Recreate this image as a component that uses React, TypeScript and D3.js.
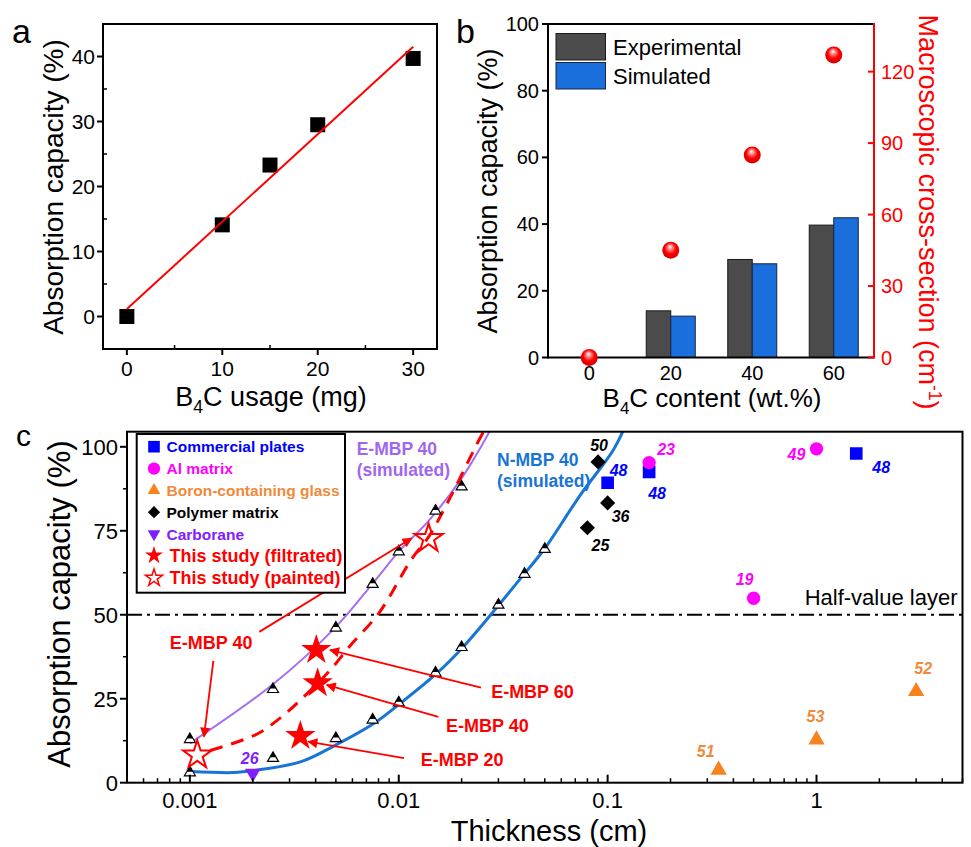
import React, { useRef, useEffect } from 'react';
import * as d3 from 'd3';

// panel a - absorption vs B4C usage
const usageMg = [0, 10, 15, 20, 30];
const usageAbsorption = [0, 14.1, 23.3, 29.5, 39.7];

// panel b - absorption / cross-section vs B4C content
const contentLevels = ['0', '20', '40', '60'];
const experimentalAbs = [0, 14.0, 29.4, 39.7];
const simulatedAbs = [0, 12.4, 28.1, 41.9];
const crossSection = [0, 45, 85, 127];

// panel c - simulated points
const eSimThickness = [0.001, 0.0025, 0.005, 0.0075, 0.01, 0.015, 0.02];
const eSimAbs = [12.9, 27.8, 46.1, 59.1, 68.8, 80.9, 88.1];
const nSimThickness = [0.001, 0.0025, 0.005, 0.0075, 0.01, 0.015, 0.02, 0.03, 0.04, 0.05];
const nSimAbs = [3.0, 7.3, 13.2, 18.7, 23.8, 32.7, 40.3, 52.9, 62.1, 69.5];

// panel c - curves
const eCurveX = [0.001, 0.0025, 0.005, 0.0075, 0.01, 0.014, 0.02, 0.0245, 0.028];
const eCurveY = [11.7, 29.3, 46.4, 59.3, 68.8, 78.2, 90.6, 99.5, 106];
const nCurveX = [0.001, 0.00162, 0.00202, 0.00338, 0.00488, 0.00759, 0.01016, 0.01523, 0.0204, 0.0306, 0.0403, 0.0501, 0.0737, 0.1063, 0.12];
const nCurveY = [3.3, 3.0, 3.6, 6.2, 10.9, 17.6, 23.6, 32.6, 40.5, 53.4, 62.5, 69.8, 85.5, 99.0, 105.5];
const paintedCurveX = [0.00125, 0.0021, 0.00277, 0.00357, 0.00462, 0.0058, 0.0081, 0.0115, 0.0139, 0.0175, 0.0237, 0.026];
const paintedCurveY = [9.6, 14.5, 19.8, 26.0, 33.0, 40.5, 50.8, 66.5, 73.2, 84.5, 100.9, 105.5];

// panel c - literature data
const commercialX = [0.1, 0.158, 1.55];
const commercialY = [89.3, 92.5, 98.0];
const commercialRef = ['48', '48', '48'];
const alX = [0.158, 0.5, 1.0];
const alY = [95.3, 54.9, 99.4];
const alRef = ['23', '19', '49'];
const glassX = [0.34, 1.0, 3.0];
const glassY = [3.8, 12.8, 27.2];
const glassRef = ['51', '53', '52'];
const polymerX = [0.09, 0.1, 0.08];
const polymerY = [95.5, 83.3, 75.9];
const polymerRef = ['50', '36', '25'];
const carboraneX = [0.002];
const carboraneY = [2.8];
const carboraneRef = ['26'];
const filtratedX = [0.00403, 0.00409, 0.00338];
const filtratedY = [39.5, 29.6, 13.9];
const paintedX = [0.001085, 0.0139];
const paintedY = [8.2, 72.7];

// reference label offsets in px (dx, dy from marker)
const commercialOff = [[11, -13], [8, 21], [25, 14]];
const alOff = [[17, -13], [-9, -19], [-20, 5]];
const glassOff = [[-13, -19], [-1, -23], [7, -23]];
const polymerOff = [[1, -17], [13, 13], [13, 17]];
const carboraneOff = [[-3, -15]];

// annotations (data coords)
const arrowTailX = [0.00215, 0.001295, 0.02475, 0.01547, 0.01059];
const arrowTailY = [44.9, 36.3, 28.3, 19.6, 7.3];
const arrowHeadX = [0.01153, 0.001168, 0.004688, 0.004519, 0.00369];
const arrowHeadY = [72.8, 13.7, 39.5, 29.1, 12.2];
const noteText = ['E-MBP 40', 'E-MBP 60', 'E-MBP 40', 'E-MBP 20'];
const noteX = [0.001263, 0.04368, 0.02655, 0.02012];
const noteY = [41.7, 27.1, 16.9, 6.8];

const legendNames = ['Commercial plates', 'Al matrix', 'Boron-containing glass', 'Polymer matrix', 'Carborane', 'This study (filtrated)', 'This study (painted)'];

const FONT = 'Arial, "Liberation Sans", Helvetica, sans-serif';
const BLUE = '#0000ff';
const MAGENTA = '#ff00ff';
const ORANGE = '#f7821e';
const ORANGE_T = '#ee8a3a';
const PURPLE = '#8020ff';
const RED = '#ff0000';

function halfTri(s) {
  const h = (s * Math.sqrt(3)) / 2;
  const top = (-2 * h) / 3, bot = h / 3, cut = top + 0.57 * h, hw = (s / 2) * 0.57;
  return {
    outline: `M0,${top}L${s / 2},${bot}L${-s / 2},${bot}Z`,
    fill: `M0,${top}L${hw},${cut}L${-hw},${cut}Z`
  };
}

function App() {
  const svgRef = useRef(null);

  useEffect(() => {
    const svg = d3.select(svgRef.current);
    svg.selectAll('*').remove();
    svg.attr('font-family', FONT);

    const defs = svg.append('defs');
    const grad = defs.append('radialGradient').attr('id', 'ball').attr('cx', '0.5').attr('cy', '0.45').attr('r', '0.55').attr('fx', '0.45').attr('fy', '0.28');
    grad.append('stop').attr('offset', '0').attr('stop-color', '#ffffff');
    grad.append('stop').attr('offset', '0.25').attr('stop-color', '#ff8a8a');
    grad.append('stop').attr('offset', '0.6').attr('stop-color', '#ff0000');
    grad.append('stop').attr('offset', '1').attr('stop-color', '#d00000');
    defs.append('marker').attr('id', 'arrowRed').attr('viewBox', '0 0 10 10').attr('refX', 9).attr('refY', 5)
      .attr('markerWidth', 14).attr('markerHeight', 10).attr('markerUnits', 'userSpaceOnUse').attr('orient', 'auto')
      .append('path').attr('d', 'M0,0L10,5L0,10Z').attr('fill', RED);

    // ============ panel a ============
    const ax = d3.scaleLinear().domain([-2.5, 32.5]).range([103, 437]);
    const ay = d3.scaleLinear().domain([-5, 45]).range([349, 24]);
    const ga = svg.append('g');

    const mx = d3.mean(usageMg), my = d3.mean(usageAbsorption);
    const slope = d3.sum(usageMg.map((x, i) => (x - mx) * (usageAbsorption[i] - my))) / d3.sum(usageMg.map(x => (x - mx) ** 2));
    const icpt = my - slope * mx;

    ga.selectAll('rect.pt').data(usageMg).enter().append('rect')
      .attr('x', d => ax(d) - 7.5).attr('y', (d, i) => ay(usageAbsorption[i]) - 7.5)
      .attr('width', 15).attr('height', 15).attr('fill', '#000');
    ga.append('line').attr('x1', ax(0)).attr('y1', ay(icpt)).attr('x2', ax(30)).attr('y2', ay(icpt + slope * 30))
      .attr('stroke', RED).attr('stroke-width', 2);

    ga.append('rect').attr('x', 103).attr('y', 24).attr('width', 334).attr('height', 325)
      .attr('fill', 'none').attr('stroke', '#000').attr('stroke-width', 2);
    [0, 10, 20, 30].forEach(v => {
      ga.append('line').attr('x1', ax(v)).attr('x2', ax(v)).attr('y1', 349).attr('y2', 355).attr('stroke', '#000').attr('stroke-width', 2);
      ga.append('text').attr('x', ax(v)).attr('y', 376).attr('text-anchor', 'middle').attr('font-size', 21).text(v);
    });
    [5, 15, 25].forEach(v => {
      ga.append('line').attr('x1', ax(v)).attr('x2', ax(v)).attr('y1', 349).attr('y2', 345).attr('stroke', '#000').attr('stroke-width', 1.5);
    });
    [0, 10, 20, 30, 40].forEach(v => {
      ga.append('line').attr('x1', 97).attr('x2', 103).attr('y1', ay(v)).attr('y2', ay(v)).attr('stroke', '#000').attr('stroke-width', 2);
      ga.append('text').attr('x', 95).attr('y', ay(v)).attr('dy', '0.35em').attr('text-anchor', 'end').attr('font-size', 21).text(v);
    });
    [-5, 5, 15, 25, 35].forEach(v => {
      ga.append('line').attr('x1', 103).attr('x2', 107).attr('y1', ay(v)).attr('y2', ay(v)).attr('stroke', '#000').attr('stroke-width', 1.5);
    });
    ga.append('text').attr('transform', 'translate(63,187) rotate(-90)').attr('text-anchor', 'middle').attr('font-size', 28).text('Absorption capacity (%)');
    const axt = ga.append('text').attr('x', 271).attr('y', 406).attr('text-anchor', 'middle').attr('font-size', 27);
    axt.append('tspan').text('B');
    axt.append('tspan').attr('font-size', '0.65em').attr('dy', 7).text('4');
    axt.append('tspan').attr('dy', -7).text('C usage (mg)');
    svg.append('text').attr('x', 12).attr('y', 42.5).attr('font-size', 34).text('a');

    // ============ panel b ============
    const bx = d3.scaleBand().domain(contentLevels).range([548.5, 874.5]);
    const bsub = d3.scaleBand().domain(['exp', 'sim']).range([0, bx.bandwidth()]).paddingOuter(0.663);
    const by = d3.scaleLinear().domain([0, 100]).range([357.5, 24]);
    const by2 = d3.scaleLinear().domain([0, 140]).range([357.5, 24]);
    const gb = svg.append('g');

    gb.selectAll('rect.exp').data(contentLevels).enter().append('rect')
      .attr('x', d => bx(d) + bsub('exp')).attr('y', (d, i) => by(experimentalAbs[i]))
      .attr('width', bsub.bandwidth()).attr('height', (d, i) => by(0) - by(experimentalAbs[i]))
      .attr('fill', '#4b4b4b').attr('stroke', '#1a1a1a').attr('stroke-width', 1);
    gb.selectAll('rect.sim').data(contentLevels).enter().append('rect')
      .attr('x', d => bx(d) + bsub('sim')).attr('y', (d, i) => by(simulatedAbs[i]))
      .attr('width', bsub.bandwidth()).attr('height', (d, i) => by(0) - by(simulatedAbs[i]))
      .attr('fill', '#1b6fdd').attr('stroke', '#1a2440').attr('stroke-width', 1);

    gb.append('line').attr('x1', 548).attr('x2', 874).attr('y1', 24).attr('y2', 24).attr('stroke', '#000').attr('stroke-width', 2);
    gb.append('line').attr('x1', 548).attr('x2', 874).attr('y1', 357.5).attr('y2', 357.5).attr('stroke', '#000').attr('stroke-width', 2);
    gb.append('line').attr('x1', 548).attr('x2', 548).attr('y1', 23).attr('y2', 358.5).attr('stroke', '#000').attr('stroke-width', 2);
    gb.append('line').attr('x1', 874).attr('x2', 874).attr('y1', 23).attr('y2', 358.5).attr('stroke', RED).attr('stroke-width', 2);

    by.ticks(5).forEach(v => {
      gb.append('line').attr('x1', 542).attr('x2', 548).attr('y1', by(v)).attr('y2', by(v)).attr('stroke', '#000').attr('stroke-width', 2);
      gb.append('text').attr('x', 539).attr('y', by(v)).attr('dy', '0.35em').attr('text-anchor', 'end').attr('font-size', 20).text(v);
    });
    [0, 30, 60, 90, 120].forEach(v => {
      gb.append('line').attr('x1', 868).attr('x2', 874).attr('y1', by2(v)).attr('y2', by2(v)).attr('stroke', RED).attr('stroke-width', 2);
      gb.append('text').attr('x', 881).attr('y', by2(v)).attr('dy', '0.35em').attr('fill', RED).attr('font-size', 20).text(v);
    });
    contentLevels.forEach(c => {
      gb.append('text').attr('x', bx(c) + bx.bandwidth() / 2).attr('y', 380).attr('text-anchor', 'middle').attr('font-size', 20).text(c);
    });

    gb.selectAll('circle.cs').data(crossSection).enter().append('circle')
      .attr('cx', (d, i) => bx(contentLevels[i]) + bx.bandwidth() / 2).attr('cy', d => by2(d))
      .attr('r', 8.5).attr('fill', 'url(#ball)');

    // legend b
    [['Experimental', '#4b4b4b', '#1a1a1a'], ['Simulated', '#1b6fdd', '#1a2440']].forEach(([name, fill, stroke], i) => {
      gb.append('rect').attr('x', 556).attr('y', 33.5 + i * 29).attr('width', 49.5).attr('height', 26.5)
        .attr('fill', fill).attr('stroke', stroke).attr('stroke-width', 1);
      gb.append('text').attr('x', 613).attr('y', 54.5 + i * 29).attr('font-size', 22).text(name);
    });

    gb.append('text').attr('transform', 'translate(497,191) rotate(-90)').attr('text-anchor', 'middle').attr('font-size', 27).text('Absorption capacity (%)');
    const bxt = gb.append('text').attr('x', 712).attr('y', 407).attr('text-anchor', 'middle').attr('font-size', 26);
    bxt.append('tspan').text('B');
    bxt.append('tspan').attr('font-size', '0.65em').attr('dy', 7).text('4');
    bxt.append('tspan').attr('dy', -7).text('C content (wt.%)');
    const brt = gb.append('text').attr('transform', 'translate(919,212) rotate(90)').attr('text-anchor', 'middle').attr('font-size', 27).attr('fill', RED);
    brt.append('tspan').text('Macroscopic cross-section (cm');
    brt.append('tspan').attr('font-size', '0.65em').attr('dy', -10).text('-1');
    brt.append('tspan').attr('dy', 10).text(')');
    svg.append('text').attr('x', 456).attr('y', 42.5).attr('font-size', 34).text('b');

    // ============ panel c ============
    const L = 127, R = 962.5, T = 431.7, B = 782.7;
    const cx = d3.scaleLog().domain([0.0005, 5]).range([L, R]);
    const cy = d3.scaleLinear().domain([0, 104.5]).range([B, T]);
    const gc = svg.append('g');
    defs.append('clipPath').attr('id', 'cclip').append('rect').attr('x', L).attr('y', T).attr('width', R - L).attr('height', B - T);
    const plot = gc.append('g').attr('clip-path', 'url(#cclip)');

    plot.append('line').attr('x1', L).attr('x2', R).attr('y1', cy(50)).attr('y2', cy(50))
      .attr('stroke', '#000').attr('stroke-width', 2).attr('stroke-dasharray', '15,5,3,5');

    const line = d3.line().x(d => cx(d[0])).y(d => cy(d[1])).curve(d3.curveCatmullRom);
    plot.append('path').attr('d', line(eCurveX.map((x, i) => [x, eCurveY[i]])))
      .attr('fill', 'none').attr('stroke', '#a46ef2').attr('stroke-width', 2);
    plot.append('path').attr('d', line(nCurveX.map((x, i) => [x, nCurveY[i]])))
      .attr('fill', 'none').attr('stroke', '#1874d6').attr('stroke-width', 3);
    plot.append('path').attr('d', line(paintedCurveX.map((x, i) => [x, paintedCurveY[i]])))
      .attr('fill', 'none').attr('stroke', RED).attr('stroke-width', 3).attr('stroke-dasharray', '13,9');

    const ht = halfTri(11);
    const simPts = eSimThickness.map((x, i) => [x, eSimAbs[i]]).concat(nSimThickness.map((x, i) => [x, nSimAbs[i]]));
    simPts.forEach(([x, y]) => {
      const g = plot.append('g').attr('transform', `translate(${cx(x)},${cy(y)})`);
      g.append('path').attr('d', ht.outline).attr('fill', '#fff').attr('stroke', '#000').attr('stroke-width', 1.2);
      g.append('path').attr('d', ht.fill).attr('fill', '#000');
    });

    // literature markers
    const sq = d3.symbol().type(d3.symbolSquare);
    const addPts = (xs, ys, refs, offs, path, color, rot, textColor) => {
      xs.forEach((x, i) => {
        plot.append('path').attr('d', path).attr('fill', color)
          .attr('transform', `translate(${cx(x)},${cy(ys[i])})${rot}`);
        gc.append('text').attr('x', cx(x) + offs[i][0]).attr('y', cy(ys[i]) + offs[i][1]).attr('dy', '0.36em')
          .attr('text-anchor', 'middle').attr('font-size', 16).attr('font-weight', 'bold').attr('font-style', 'italic')
          .attr('fill', textColor || color).text(refs[i]);
      });
    };
    addPts(commercialX, commercialY, commercialRef, commercialOff, sq.size(160)(), BLUE, '');
    addPts(alX, alY, alRef, alOff, d3.symbol(d3.symbolCircle, 140)(), MAGENTA, '');
    addPts(glassX, glassY, glassRef, glassOff, d3.symbol(d3.symbolTriangle, 115)(), ORANGE, '', ORANGE_T);
    addPts(polymerX, polymerY, polymerRef, polymerOff, sq.size(115)(), '#000', ' rotate(45)');
    addPts(carboraneX, carboraneY, carboraneRef, carboraneOff, d3.symbol(d3.symbolTriangle, 105)(), PURPLE, ' rotate(180)');

    // this study stars
    const starBig = d3.symbol(d3.symbolStar, 285)();
    filtratedX.forEach((x, i) => {
      plot.append('path').attr('d', starBig).attr('fill', RED).attr('transform', `translate(${cx(x)},${cy(filtratedY[i])})`);
    });
    const starOpen = d3.symbol(d3.symbolStar, 250)();
    paintedX.forEach((x, i) => {
      plot.append('path').attr('d', starOpen).attr('fill', 'none').attr('stroke', RED).attr('stroke-width', 2)
        .attr('transform', `translate(${cx(x)},${cy(paintedY[i])})`);
    });

    // arrows and notes
    arrowTailX.forEach((x, i) => {
      gc.append('line').attr('x1', cx(x)).attr('y1', cy(arrowTailY[i])).attr('x2', cx(arrowHeadX[i])).attr('y2', cy(arrowHeadY[i]))
        .attr('stroke', RED).attr('stroke-width', 1.8).attr('marker-end', 'url(#arrowRed)');
    });
    noteText.forEach((t, i) => {
      gc.append('text').attr('x', cx(noteX[i])).attr('y', cy(noteY[i])).attr('dy', '0.36em').attr('text-anchor', 'middle')
        .attr('font-size', 18).attr('font-weight', 'bold').attr('fill', RED).text(t);
    });

    const eLab = gc.append('text').attr('font-size', 17.5).attr('font-weight', 'bold').attr('fill', '#a066f0');
    eLab.append('tspan').attr('x', cx(0.00629)).attr('y', cy(97.7)).text('E-MBP 40');
    eLab.append('tspan').attr('x', cx(0.00629)).attr('dy', 21).text('(simulated)');
    const nLab = gc.append('text').attr('font-size', 17.5).attr('font-weight', 'bold').attr('fill', '#1874d6');
    nLab.append('tspan').attr('x', cx(0.02954)).attr('y', cy(94.4)).text('N-MBP 40');
    nLab.append('tspan').attr('x', cx(0.02954)).attr('dy', 21).text('(simulated)');
    gc.append('text').attr('x', R - 5).attr('y', cy(50) - 10).attr('text-anchor', 'end').attr('font-size', 22).text('Half-value layer');

    // frame + axes
    gc.append('rect').attr('x', L).attr('y', T).attr('width', R - L).attr('height', B - T)
      .attr('fill', 'none').attr('stroke', '#000').attr('stroke-width', 2);
    [0, 25, 50, 75, 100].forEach(v => {
      gc.append('line').attr('x1', L - 7).attr('x2', L).attr('y1', cy(v)).attr('y2', cy(v)).attr('stroke', '#000').attr('stroke-width', 2);
      gc.append('text').attr('x', L - 9).attr('y', cy(v)).attr('dy', '0.36em').attr('text-anchor', 'end').attr('font-size', 22).text(v);
    });
    [12.5, 37.5, 62.5, 87.5].forEach(v => {
      gc.append('line').attr('x1', L - 4).attr('x2', L).attr('y1', cy(v)).attr('y2', cy(v)).attr('stroke', '#000').attr('stroke-width', 1.5);
    });
    const majors = [0.001, 0.01, 0.1, 1];
    const fmt = ['0.001', '0.01', '0.1', '1'];
    cx.ticks().forEach(v => {
      const isMajor = majors.some(m => Math.abs(m - v) / m < 1e-6);
      gc.append('line').attr('x1', cx(v)).attr('x2', cx(v)).attr('y1', B).attr('y2', B - (isMajor ? 8 : 4.5))
        .attr('stroke', '#000').attr('stroke-width', isMajor ? 2 : 1.5);
    });
    majors.forEach((v, i) => {
      gc.append('text').attr('x', cx(v)).attr('y', 808).attr('text-anchor', 'middle').attr('font-size', 22).text(fmt[i]);
    });
    gc.append('text').attr('transform', 'translate(70,604) rotate(-90)').attr('text-anchor', 'middle').attr('font-size', 31).text('Absorption capacity (%)');
    gc.append('text').attr('x', 549).attr('y', 841).attr('text-anchor', 'middle').attr('font-size', 29).text('Thickness (cm)');
    svg.append('text').attr('x', 16).attr('y', 446).attr('font-size', 30).text('c');

    // legend c
    const lg = gc.append('g');
    lg.append('rect').attr('x', 136.7).attr('y', 434).attr('width', 208.3).attr('height', 158.7)
      .attr('fill', '#fff').attr('stroke', '#000').attr('stroke-width', 2);
    const legRowY = [446.7, 468.6, 490.4, 512.2, 534, 555.5, 578];
    const legColor = [BLUE, MAGENTA, ORANGE_T, '#000', PURPLE, RED, RED];
    const legSym = [
      { d: sq.size(135)(), fill: BLUE, rot: '' },
      { d: d3.symbol(d3.symbolCircle, 120)(), fill: MAGENTA, rot: '' },
      { d: d3.symbol(d3.symbolTriangle, 70)(), fill: ORANGE, rot: '' },
      { d: sq.size(75)(), fill: '#000', rot: ' rotate(45)' },
      { d: d3.symbol(d3.symbolTriangle, 70)(), fill: PURPLE, rot: ' rotate(180)' },
      { d: d3.symbol(d3.symbolStar, 100)(), fill: RED, rot: '' },
      { d: d3.symbol(d3.symbolStar, 90)(), fill: 'none', rot: '' }
    ];
    legendNames.forEach((name, i) => {
      const s = legSym[i];
      const p = lg.append('path').attr('d', s.d).attr('fill', s.fill).attr('transform', `translate(154,${legRowY[i]})${s.rot}`);
      if (i === 6) p.attr('stroke', RED).attr('stroke-width', 1.5);
      const big = i >= 5;
      lg.append('text').attr('x', big ? 169.5 : 166.5).attr('y', legRowY[i]).attr('dy', '0.36em')
        .attr('font-size', big ? 18 : 15.5).attr('font-weight', 'bold').attr('fill', legColor[i]).text(name);
    });
  }, []);

  return <svg ref={svgRef} width={971} height={847} style={{ position: 'absolute', left: 0, top: 0, background: '#fff' }} />;
}

export default App;
